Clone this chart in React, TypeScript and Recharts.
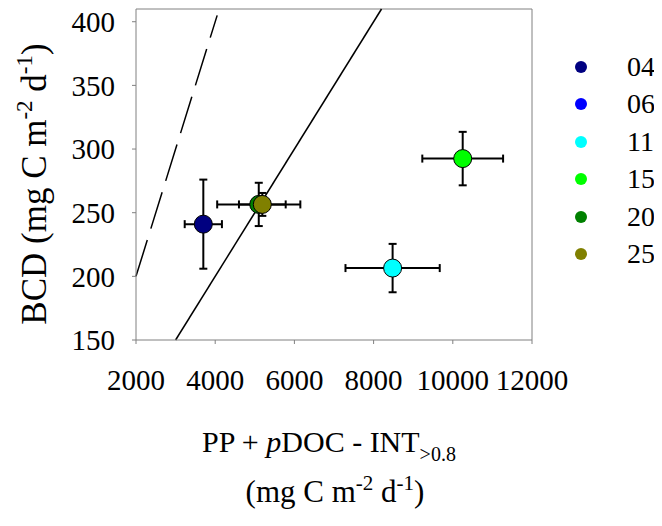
import { ScatterChart, Scatter, XAxis, YAxis, ErrorBar, ReferenceLine, Legend } from 'recharts'

const FONT = '"Liberation Serif", "Times New Roman", serif'
const AXIS_GREY = '#808080'

// stations (legend order) and their marker colours
const stations = ['04', '06', '11', '15', '20', '25']
const colors = ['#000080', '#0000ff', '#00ffff', '#00ff00', '#008000', '#808000']

// PP + pDOC - INT>0.8 (x) and BCD (y), with +/- errors; station 06 has no point
const netProduction = [3700, null, 8480, 10250, 5100, 5190]
const netProductionErr = [470, null, 1190, 1020, 1050, 590]
const bcd = [241, null, 206.5, 292.5, 256.5, 256.5]
const bcdErr = [35, null, 19, 21, 17, 9]

const xTicks = [2000, 4000, 6000, 8000, 10000, 12000]
const yTicks = [150, 200, 250, 300, 350, 400]

// y = 0.05x (solid) and y = 0.1x (dashed)
const solidLine = [
  { x: 3000, y: 150 },
  { x: 8200, y: 410 },
]
const dashedLine = [
  { x: 2000, y: 200 },
  { x: 4050, y: 405 },
]

const series = stations.map((name, i) => ({
  name,
  color: colors[i],
  data:
    netProduction[i] === null
      ? []
      : [{ x: netProduction[i], y: bcd[i], ex: netProductionErr[i], ey: bcdErr[i] }],
}))

const Dot = (props: any) => {
  const { cx, cy, fill } = props
  if (cx == null || cy == null) return null
  return <circle cx={cx} cy={cy} r={9} fill={fill} stroke="#000" strokeWidth={1} />
}

// legend in plain html, marker then station label
const renderLegend = () => (
  <div style={{ position: 'relative', width: 130, height: 260 }}>
    {stations.map((s, i) => (
      <div key={s} style={{ position: 'absolute', left: 0, top: 39.7 + i * 37.5, width: 130, height: 36 }}>
        <span
          style={{
            position: 'absolute',
            left: 42.7,
            top: 12,
            width: 12,
            height: 12,
            borderRadius: '50%',
            background: colors[i],
          }}
        />
        <span
          style={{
            position: 'absolute',
            left: 95,
            top: 0,
            fontSize: 28,
            lineHeight: '36px',
            fontFamily: FONT,
            whiteSpace: 'nowrap',
          }}
        >
          {s}
        </span>
      </div>
    ))}
  </div>
)

const renderYLabel = () => (
  <text
    transform="translate(46,184) rotate(-90)"
    textAnchor="middle"
    fontSize={35}
    fontFamily={FONT}
    fill="#000"
  >
    BCD (mg C m
    <tspan dy={-14} fontSize={23}>-2</tspan>
    <tspan dy={14}>{' d'}</tspan>
    <tspan dy={-14} fontSize={23}>-1</tspan>
    <tspan dy={14}>)</tspan>
  </text>
)

const renderXLabel = () => (
  <g fontFamily={FONT} fill="#000">
    <text x={329} y={452} textAnchor="middle" fontSize={30}>
      {'PP + '}
      <tspan fontStyle="italic">p</tspan>
      {'DOC - INT'}
      <tspan dy={9} fontSize={20}>{'>0.8'}</tspan>
    </text>
    <text x={335} y={502} textAnchor="middle" fontSize={31}>
      (mg C m
      <tspan dy={-12} fontSize={21}>-2</tspan>
      <tspan dy={12}>{' d'}</tspan>
      <tspan dy={-12} fontSize={21}>-1</tspan>
      <tspan dy={12}>)</tspan>
    </text>
  </g>
)

export default function App() {
  return (
    <div style={{ margin: '-8px 0 0 -8px', width: 662, height: 526, background: '#fff', position: 'relative' }}>
      <ScatterChart width={662} height={526} margin={{ top: 9, right: 0, bottom: 126, left: 0 }}>
        <XAxis
          type="number"
          dataKey="x"
          domain={[2000, 12000]}
          ticks={xTicks}
          height={60}
          stroke={AXIS_GREY}
          tickSize={4}
          tickMargin={25}
          tick={{ fill: '#000', fontSize: 29, fontFamily: FONT }}
          label={{ content: renderXLabel }}
          allowDataOverflow
        />
        <YAxis
          type="number"
          dataKey="y"
          domain={[150, 410]}
          ticks={yTicks}
          width={136}
          stroke={AXIS_GREY}
          tickSize={4}
          tickMargin={17}
          tick={{ fill: '#000', fontSize: 29, fontFamily: FONT }}
          label={{ content: renderYLabel }}
          allowDataOverflow
        />
        <ReferenceLine y={410} stroke={AXIS_GREY} />
        <ReferenceLine x={12000} stroke={AXIS_GREY} />
        <ReferenceLine segment={dashedLine} stroke="#000" strokeWidth={1.5} strokeDasharray="38 12" />
        <ReferenceLine segment={solidLine} stroke="#000" strokeWidth={1.5} />
        <Legend
          layout="vertical"
          align="right"
          verticalAlign="top"
          content={renderLegend}
          wrapperStyle={{ position: 'absolute', left: 532, top: 9, width: 130 }}
        />
        {series.map((s) => (
          <Scatter
            key={s.name}
            name={s.name}
            data={s.data}
            fill={s.color}
            shape={Dot}
            isAnimationActive={false}
          >
            <ErrorBar dataKey="ex" direction="x" width={4} stroke="#000" strokeWidth={2} />
            <ErrorBar dataKey="ey" direction="y" width={4} stroke="#000" strokeWidth={2} />
          </Scatter>
        ))}
      </ScatterChart>
    </div>
  )
}
